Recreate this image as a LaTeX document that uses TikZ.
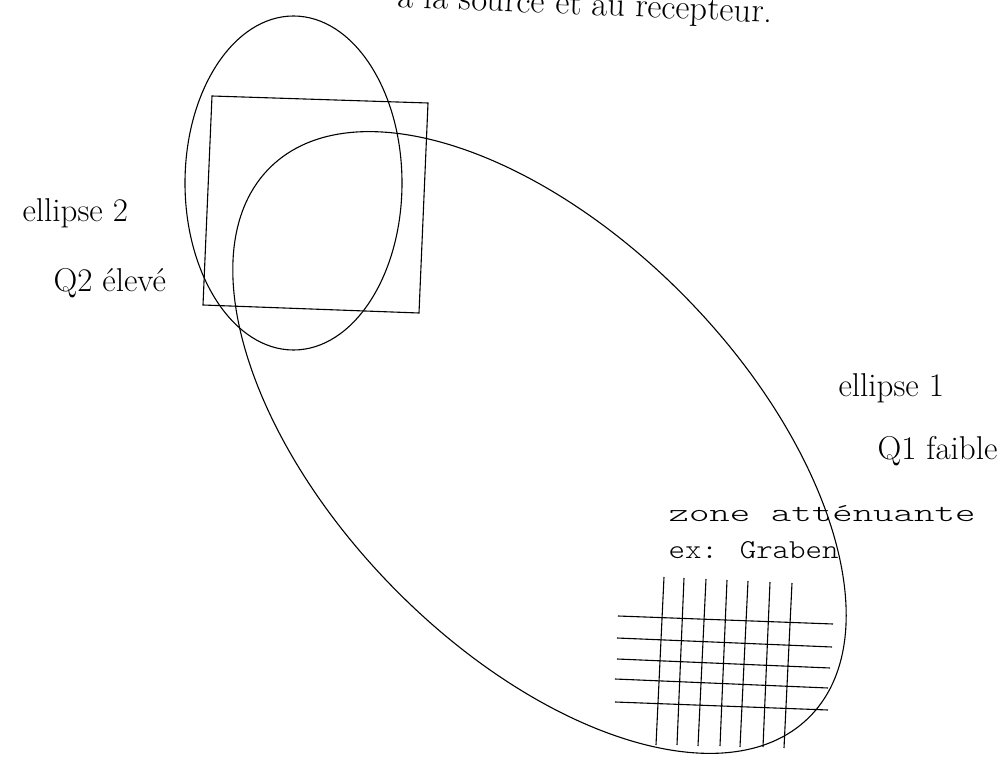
\documentclass[tikz,border=0pt]{standalone}
\usepackage{fontspec}
\usepackage{graphicx}
\newfontfamily\plotfont{lmmonolt10-regular.otf}
% plotter lettering, stretched to the width it has on the plan
\newcommand{\plotlabel}[3]{\resizebox{#1}{#2}{\plotfont #3}}

\begin{document}
\begin{tikzpicture}[x=1pt,y=-1pt,line width=1.1pt,
    lab/.style={font=\fontsize{33}{39}\selectfont, inner sep=0pt, anchor=base west},
    plotlab/.style={inner sep=0pt, anchor=base west}]
  \useasboundingbox (0,0) rectangle (1005,759);
  \begin{scope}
    \clip (0,0) rectangle (1005,759);
    \node[lab, font=\fontsize{34.5}{40}\selectfont, rotate=-2.4] (titre) at (397,7)
      {à la source et au récepteur.};
  \end{scope}
  % ellipse 2 and the square
  \draw (293.5,183) ellipse [x radius=108.5, y radius=167];
  \draw (212,96) -- (428,103) -- (419,313) -- (203,305) -- cycle;
  % ellipse 1
  \draw[rotate around={-45.7:(539.5,442.5)}] (539.5,442.5) ellipse [x radius=385, y radius=206];
  % attenuating zone
  \foreach \xt/\yt/\xb/\yb in {664/577/656/745, 684/578/677/745, 706/579/698/746,
      727/580/720/746, 748/581/740/747, 770/582/763/747, 792/583/784/748}
    \draw (\xt,\yt) -- (\xb,\yb);
  \foreach \xl/\yl/\xr/\yr in {618/616/833/624, 617/638/832/647, 617/659/830/668,
      615/679/828/688, 615/702/828/710}
    \draw (\xl,\yl) -- (\xr,\yr);
  \node[lab] (e2) at (22,222) {ellipse 2};
  \node[lab] (q2) at (53,292) {Q2 élevé};
  \node[lab] (e1) at (838,397) {ellipse 1};
  \node[lab] (q1) at (877,460) {Q1 faible};
  \node[plotlab] (zone) at (668,521) {\plotlabel{307pt}{16pt}{zone atténuante}};
  \node[plotlab] (graben) at (668,558) {\plotlabel{170pt}{17pt}{ex: Graben}};
\end{tikzpicture}
\end{document}
